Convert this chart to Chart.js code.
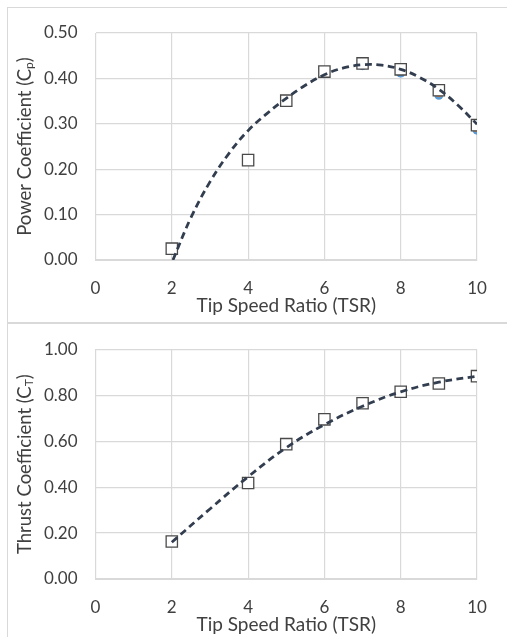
<!DOCTYPE html>
<html>
<head>
<meta charset="utf-8">
<script src="https://cdn.jsdelivr.net/npm/chart.js@4.4.1/dist/chart.umd.min.js"></script>
<style>
  html, body { margin: 0; padding: 0; background: #fff; }
  body { width: 507px; height: 637px; position: relative; overflow: hidden; }
  .panel { position: absolute; left: 7px; width: 520px; border: 1px solid #d9d9d9; border-right: none; }
  .wrap { position: absolute; left: 0; width: 507px; height: 322px; }
</style>
</head>
<body>
<div class="panel" style="top:7px;height:314px"></div>
<div class="panel" style="top:323px;height:330px"></div>
<div class="wrap" style="top:0px"><canvas id="cp"></canvas></div>
<div class="wrap" style="top:319px"><canvas id="ct"></canvas></div>
<script>
// datos
var tsr = [2, 4, 5, 6, 7, 8, 9, 10];

var cpSquares = [0.025, 0.22, 0.351, 0.415, 0.433, 0.42, 0.374, 0.297];
var cpBlue = [0.024, 0.219, 0.347, 0.41, 0.428, 0.412, 0.363, 0.286];
var cpOrange = [0.025, 0.22, 0.349, 0.411, 0.43, 0.416, 0.368, 0.291];
var cpTrendX = [2.03, 2.5, 3, 3.5, 4, 4.5, 5, 5.5, 6, 6.5, 7, 7.5, 8, 8.5, 9, 9.5, 10];
var cpTrendY = [0, 0.093, 0.172, 0.235, 0.285, 0.323, 0.356, 0.385, 0.408, 0.423, 0.430, 0.429, 0.420, 0.402, 0.376, 0.341, 0.299];

var ctSquares = [0.163, 0.418, 0.587, 0.695, 0.765, 0.815, 0.851, 0.883];
var ctBlue = [0.16, 0.416, 0.584, 0.692, 0.762, 0.811, 0.849, 0.881];
var ctOrange = [0.162, 0.417, 0.586, 0.694, 0.764, 0.813, 0.85, 0.882];
var ctTrendX = [2, 3, 4, 5, 6, 7, 8, 9, 10];
var ctTrendY = [0.16, 0.305, 0.445, 0.572, 0.672, 0.752, 0.815, 0.857, 0.883];

var xTicks = [0, 2, 4, 6, 8, 10];

Chart.defaults.font.family = 'Lato';
Chart.defaults.color = '#404040';

function puntos(xs, ys) {
    var out = [];
    for (var i = 0; i < xs.length; i++) out.push({x: xs[i], y: ys[i]});
    return out;
}

// titulo vertical con subindice
var tituloY = {
    id: 'tituloY',
    afterDraw: function (chart, args, opts) {
        var ctx = chart.ctx;
        var area = chart.chartArea;
        ctx.save();
        ctx.translate(opts.x, (area.top + area.bottom) / 2);
        ctx.rotate(-Math.PI / 2);
        ctx.fillStyle = '#404040';
        ctx.textBaseline = 'middle';
        var big = '18.5px Lato', small = '12px Lato';
        ctx.font = big;
        var w1 = ctx.measureText(opts.main).width;
        var w3 = ctx.measureText(')').width;
        ctx.font = small;
        var w2 = ctx.measureText(opts.sub).width;
        var x0 = -(w1 + w2 + w3) / 2;
        ctx.font = big;
        ctx.textAlign = 'left';
        ctx.fillText(opts.main, x0, 0);
        ctx.font = small;
        ctx.fillText(opts.sub, x0 + w1, 4);
        ctx.font = big;
        ctx.fillText(')', x0 + w1 + w2, 0);
        ctx.restore();
    }
};

function crearGrafico(id, datos, yMax, yStep, padTop, tit) {
    var grid = { color: '#d9d9d9', lineWidth: 1.2, drawTicks: false };
    new Chart(document.getElementById(id), {
        type: 'scatter',
        data: {
            datasets: [{
                type: 'line',
                data: puntos(datos.trendX, datos.trendY),
                borderColor: '#323e4f',
                borderWidth: 2.8,
                borderDash: [7, 4.5],
                pointRadius: 0,
                tension: 0.4,
                fill: false
            }, {
                data: puntos(tsr, datos.squares),
                pointStyle: 'rect',
                pointRadius: 8,
                pointBackgroundColor: '#ffffff',
                pointBorderColor: '#4a4a4a',
                pointBorderWidth: 1.3
            }, {
                data: puntos(tsr, datos.orange),
                pointRadius: 4,
                pointBackgroundColor: '#ed7d31',
                pointBorderWidth: 0
            }, {
                data: puntos(tsr, datos.blue),
                pointRadius: 4.5,
                pointBackgroundColor: '#5b9bd5',
                pointBorderWidth: 0
            }]
        },
        options: {
            responsive: true,
            maintainAspectRatio: false,
            animation: false,
            events: [],
            layout: { padding: { left: 0, right: 30, top: padTop, bottom: 0 } },
            plugins: {
                legend: { display: false },
                tooltip: { enabled: false },
                tituloY: tit
            },
            scales: {
                x: {
                    type: 'linear',
                    min: 0, max: 10,
                    afterBuildTicks: function (s) { s.ticks = xTicks.map(function (v) { return {value: v}; }); },
                    afterFit: function (s) { s.height = 62; },
                    grid: grid,
                    border: { color: '#d9d9d9' },
                    ticks: { padding: 18, font: { size: 17 }, color: '#404040' },
                    title: { display: true, text: 'Tip Speed Ratio (TSR)', font: { size: 19 }, color: '#404040', padding: { top: 0, bottom: 5 } }
                },
                y: {
                    min: 0, max: yMax,
                    afterFit: function (s) { s.width = 95.5; },
                    grid: grid,
                    border: { color: '#d9d9d9' },
                    ticks: {
                        stepSize: yStep, padding: 18, font: { size: 17 }, color: '#404040',
                        callback: function (v) { return v.toFixed(2); }
                    }
                }
            }
        },
        plugins: [tituloY]
    });
}

crearGrafico('cp', { trendX: cpTrendX, trendY: cpTrendY, squares: cpSquares, orange: cpOrange, blue: cpBlue },
    0.5, 0.1, 33, { x: 25, main: 'Power Coefficient (C', sub: 'p' });
crearGrafico('ct', { trendX: ctTrendX, trendY: ctTrendY, squares: ctSquares, orange: ctOrange, blue: ctBlue },
    1.0, 0.2, 30.3, { x: 25, main: 'Thrust Coefficient (C', sub: 'T' });
</script>
</body>
</html>
